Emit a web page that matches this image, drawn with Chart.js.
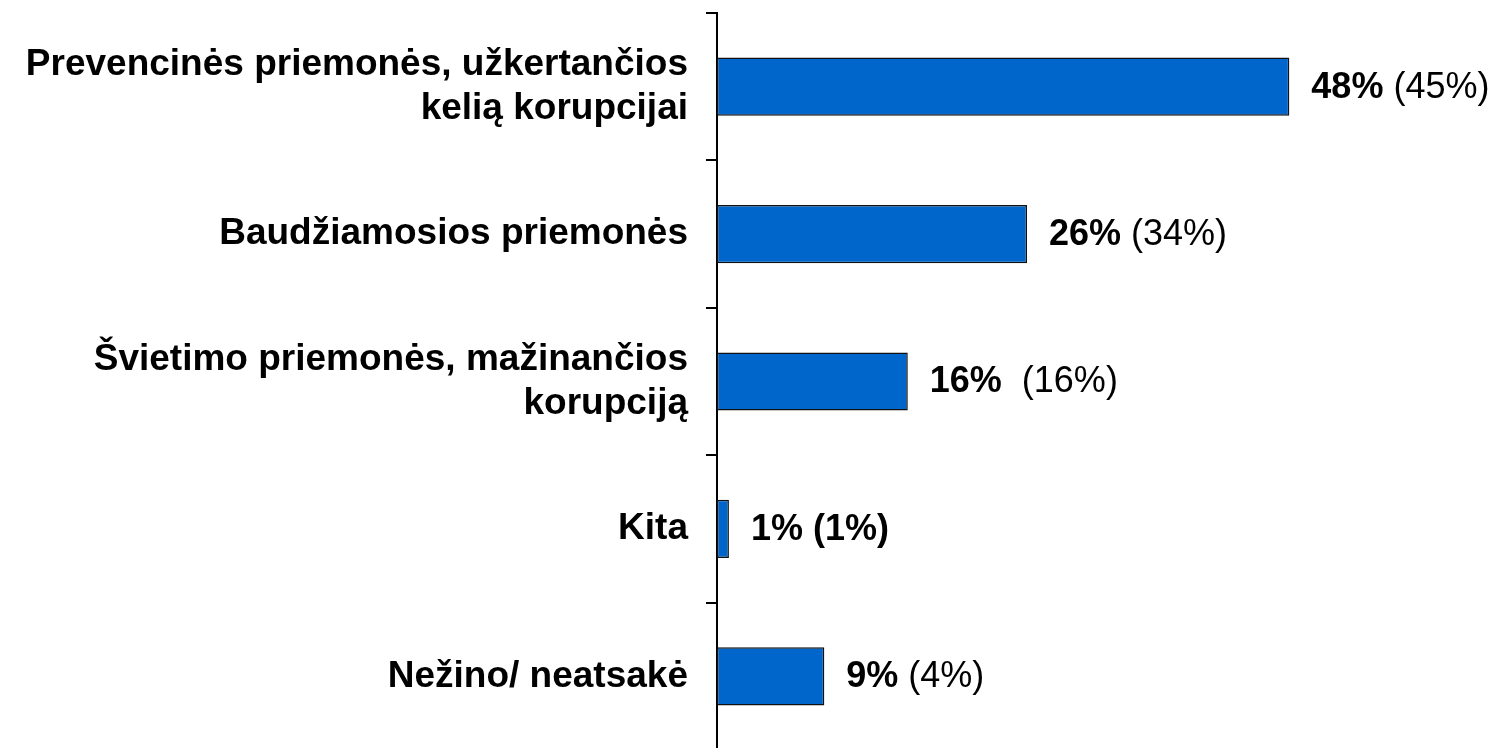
<!DOCTYPE html>
<html>
<head>
<meta charset="utf-8">
<script src="https://cdn.jsdelivr.net/npm/chart.js@4/dist/chart.umd.min.js"></script>
<style>
  html, body { margin: 0; padding: 0; background: #fff; overflow: hidden; }
  #wrap { width: 1498px; height: 752px; }
</style>
</head>
<body>
<div id="wrap"><canvas id="canvas" width="1498" height="752"></canvas></div>
<script>
var categories = [
    ['Prevencinės priemonės, užkertančios', 'kelią korupcijai'],
    'Baudžiamosios priemonės',
    ['Švietimo priemonės, mažinančios', 'korupciją'],
    'Kita',
    'Nežino/ neatsakė'
];
var values = [48, 26, 16, 1, 9];       // current survey, %
var prevValues = [45, 34, 16, 1, 4];   // previous survey, shown in brackets
var prevBold = [false, false, false, true, false];
var labelGap = [' ', ' ', '  ', ' ', ' '];

var FONT = '"Liberation Sans", Arial, sans-serif';

// value labels to the right of each bar: "48% (45%)"
var barLabels = {
    id: 'barLabels',
    afterDatasetsDraw: function (chart) {
        var ctx = chart.ctx;
        var meta = chart.getDatasetMeta(0);
        ctx.save();
        ctx.fillStyle = '#000';
        ctx.textBaseline = 'middle';
        ctx.textAlign = 'left';
        meta.data.forEach(function (bar, i) {
            var x = bar.x + 22;
            var y = bar.y + 1;
            ctx.font = 'bold 36px ' + FONT;
            var main = values[i] + '%';
            ctx.fillText(main, x, y);
            x += ctx.measureText(main + labelGap[i]).width;
            ctx.font = (prevBold[i] ? 'bold ' : '') + '36px ' + FONT;
            ctx.fillText('(' + prevValues[i] + '%)', x, y);
        });
        ctx.restore();
    }
};

var chart = new Chart(document.getElementById('canvas').getContext('2d'), {
    type: 'bar',
    data: {
        labels: categories,
        datasets: [{
            data: values,
            backgroundColor: '#0066CC',
            borderColor: '#111',
            borderWidth: 1.5,
            borderSkipped: false,
            barPercentage: 0.395,
            categoryPercentage: 1
        }]
    },
    options: {
        indexAxis: 'y',
        responsive: false,
        animation: false,
        layout: { padding: { top: 13, right: 0, bottom: 2, left: 0 } },
        plugins: {
            legend: { display: false },
            tooltip: { enabled: false }
        },
        scales: {
            x: {
                display: false,
                min: 0,
                max: 65.5
            },
            y: {
                afterFit: function (scale) {
                    scale.width = 717;
                    // labels sit inside their bands, no extra room needed
                    scale.paddingTop = 0;
                    scale.paddingBottom = 0;
                },
                border: { display: true, color: '#000', width: 2 },
                grid: {
                    drawOnChartArea: false,
                    drawTicks: true,
                    tickLength: 11,
                    color: '#000',
                    lineWidth: 2
                },
                ticks: {
                    color: '#000',
                    padding: 18,
                    font: { family: FONT, size: 37, weight: 'bold', lineHeight: 1.2 }
                }
            }
        }
    },
    plugins: [barLabels]
});
</script>
</body>
</html>
